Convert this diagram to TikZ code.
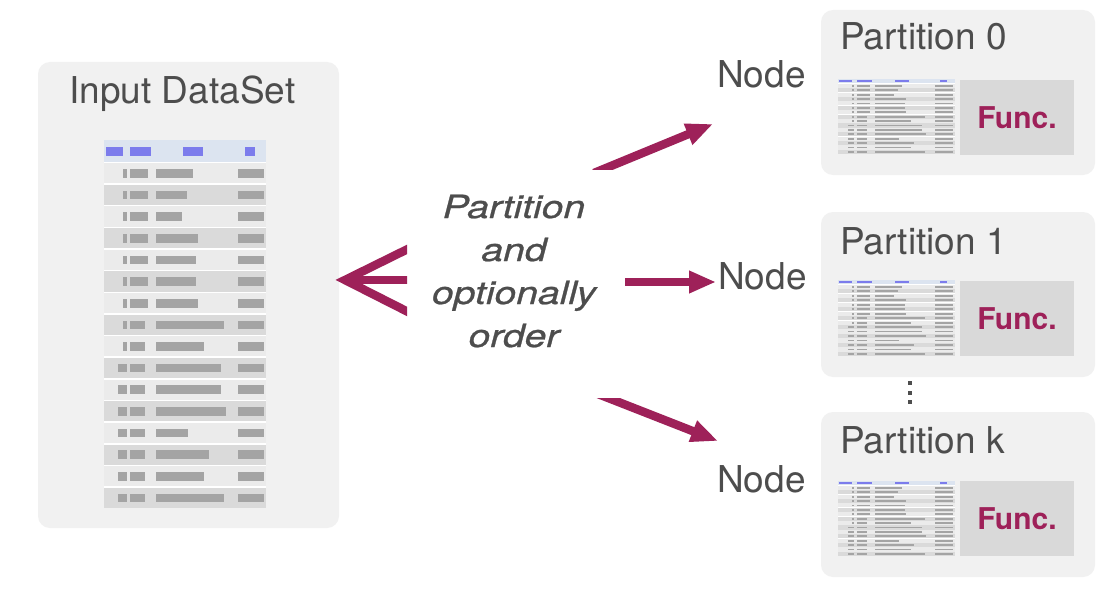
\documentclass[tikz,border=0pt]{standalone}
\usepackage{fontspec}
\usepackage{graphicx}
\setmainfont{TeX Gyre Heros}
\newfontfamily\centrefont[FakeBold=0.7]{TeX Gyre Heros}
\usetikzlibrary{arrows.meta}
\definecolor{maroon}{HTML}{9E2159}
\definecolor{boxbg}{HTML}{F1F1F1}
\definecolor{funcbg}{HTML}{D9D9D9}
\definecolor{txtgray}{HTML}{4D4D4D}
\definecolor{hdrblue}{HTML}{DCE4F0}
\definecolor{hdrtxt}{HTML}{7C7CEC}
\definecolor{rowA}{HTML}{EBEBEB}
\definecolor{rowB}{HTML}{DADADA}
\definecolor{celltxt}{HTML}{A4A4A4}

\newcommand{\datatable}[4]{%
  \pgfmathsetmacro\dtRH{#4/17}%
  \fill[white] (#1,#2) rectangle ++(#3,#4);
  \fill[hdrblue] (#1,#2) rectangle ++(#3,\dtRH);
  \foreach \a/\b in {0.01/0.12,0.16/0.29,0.49/0.61,0.87/0.93}
    \fill[hdrtxt] ({#1+\a*#3},{#2+0.33*\dtRH}) rectangle ({#1+\b*#3},{#2+0.72*\dtRH});
  \foreach \L [count=\i] in {0.23,0.19,0.16,0.26,0.25,0.25,0.26,0.42,0.30,0.40,0.40,0.43,0.20,0.33,0.30,0.42}{%
    \pgfmathsetmacro\dtY{#2+\i*\dtRH}%
    \ifodd\i\def\dtRC{rowA}\else\def\dtRC{rowB}\fi
    \fill[\dtRC] (#1,{\dtY+0.07*\dtRH}) rectangle ({#1+#3},{\dtY+\dtRH});
    \ifnum\i<10 \def\dtIA{0.12}\else\def\dtIA{0.085}\fi
    \fill[celltxt] ({#1+\dtIA*#3},{\dtY+0.34*\dtRH}) rectangle ({#1+0.14*#3},{\dtY+0.74*\dtRH});
    \ifnum\i<8 \def\dtCB{0.27}\else\def\dtCB{0.25}\fi
    \fill[celltxt] ({#1+0.16*#3},{\dtY+0.34*\dtRH}) rectangle ({#1+\dtCB*#3},{\dtY+0.74*\dtRH});
    \fill[celltxt] ({#1+0.32*#3},{\dtY+0.34*\dtRH}) rectangle ({#1+(0.32+\L)*#3},{\dtY+0.74*\dtRH});
    \fill[celltxt] ({#1+0.83*#3},{\dtY+0.34*\dtRH}) rectangle ({#1+0.985*#3},{\dtY+0.74*\dtRH});
  }%
}

\tikzset{
  panel/.style={fill=boxbg, rounded corners=12pt},
  bigtxt/.style={text=txtgray, inner sep=0pt, font=\fontsize{37}{44}\selectfont},
  functxt/.style={text=maroon, inner sep=0pt, font=\bfseries\fontsize{30}{36}\selectfont},
  arr/.style={draw=maroon, line width=8.5pt, -{Triangle[length=27pt,width=21pt]}},
  foot/.style={draw=maroon, line width=8.5pt, line join=miter}
}

\begin{document}
\begin{tikzpicture}[x=1pt,y=-1pt]
\useasboundingbox (0,0) rectangle (1108,594);
\fill[white] (0,0) rectangle (1108,594);

% Input dataset panel
\fill[panel] (38,62) rectangle (339,528);
\node[bigtxt, anchor=base west] (intitle) at (69,103) {Input DataSet};
\datatable{104}{140}{162}{368}

% Partition panels
\foreach \top/\base/\name/\lab in {10/50/p0/0,212/254/p1/1,412/453/pk/k}{
  \fill[panel] (821,\top) rectangle (1095,\top+165);
  \node[bigtxt, anchor=base west] (\name title) at (840,\base) {Partition \lab};
}
\datatable{838}{79}{117}{75}
\datatable{838}{280}{117}{76}
\datatable{838}{481}{117}{75}
\fill[funcbg] (960,80) rectangle (1074,155);
\fill[funcbg] (960,281) rectangle (1074,356);
\fill[funcbg] (960,481) rectangle (1074,556);
\node[functxt] (f0) at (1017,118) {Func.};
\node[functxt] (f1) at (1017,319) {Func.};
\node[functxt] (fk) at (1017,519) {Func.};

% vertical dots
\foreach \yy in {383,393,402}
  \fill[txtgray] (908,\yy-2) rectangle (912,\yy+2);

% Node labels
\node[bigtxt, anchor=base west] (n0) at (717,88) {Node};
\node[bigtxt, anchor=base west] (n1) at (718,289) {Node};
\node[bigtxt, anchor=base west] (nk) at (717,492) {Node};

% centre text
\node[text=txtgray, inner sep=0pt, anchor=base] (ptxt) at (514,218)
  {\scalebox{1.22}[1]{\centrefont\fontsize{32}{43}\selectfont\itshape
   \begin{tabular}[t]{@{}c@{}}Partition\\and\\optionally\\order\end{tabular}}};

% crow's foot on the left
\coordinate (ftip) at (345,280);
\coordinate (fa) at (420,243);
\coordinate (fb) at (420,280);
\coordinate (fc) at (420,318);
\begin{scope}
  \clip (330,230) rectangle (407,330);
  \draw[foot] (fa) -- (ftip) -- (fc);
  \draw[foot] (ftip) -- (fb);
\end{scope}

% arrows to the nodes
\coordinate (t0) at (594,173);
\coordinate (h0) at (713,124);
\coordinate (t1) at (625,282);
\coordinate (h1) at (716,282);
\coordinate (tk) at (598,394);
\coordinate (hk) at (718,441);
\begin{scope}
  \clip (580,100) rectangle (740,169);
  \draw[arr] (t0) -- (h0);
\end{scope}
\draw[arr] (t1) -- (h1);
\begin{scope}
  \clip (580,398) rectangle (740,470);
  \draw[arr] (tk) -- (hk);
\end{scope}
\end{tikzpicture}
\end{document}
